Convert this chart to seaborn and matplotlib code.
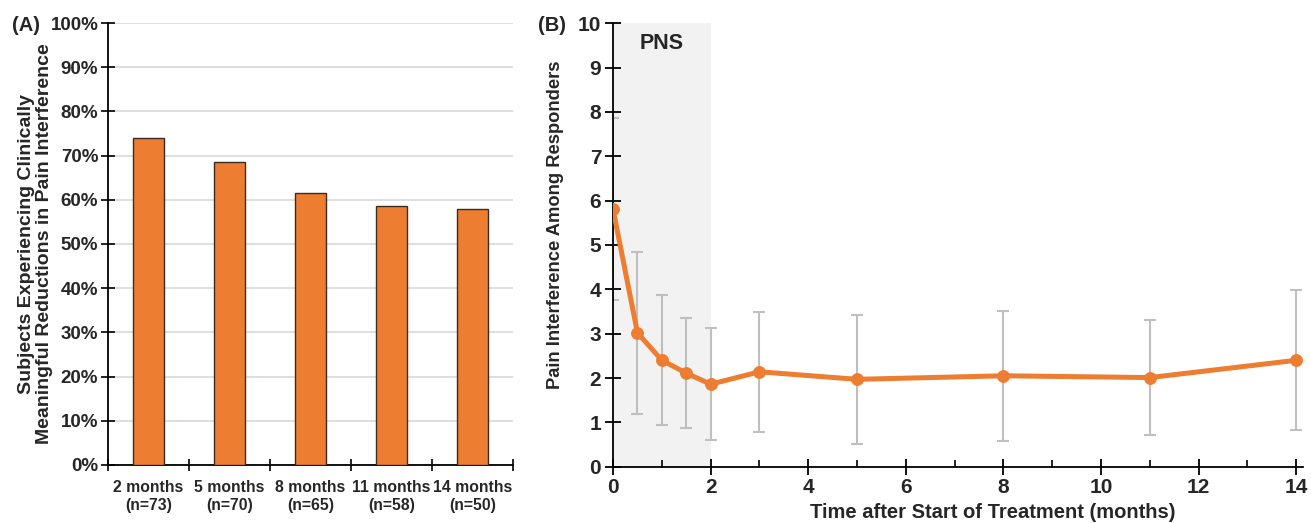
import numpy as np
import pandas as pd
import seaborn as sns
from matplotlib import pyplot as plt
from matplotlib.ticker import FixedLocator, PercentFormatter

# (A) responders per visit
visit_labels = ["2 months\n(n=73)", "5 months\n(n=70)", "8 months\n(n=65)",
                "11 months\n(n=58)", "14 months\n(n=50)"]
pct_responders = [74.0, 68.6, 61.5, 58.6, 58.0]

# (B) pain interference among responders over time
months = [0, 0.5, 1, 1.5, 2, 3, 5, 8, 11, 14]
pain_mean = [5.81, 3.02, 2.40, 2.11, 1.86, 2.14, 1.97, 2.05, 2.01, 2.40]
pain_sd = [2.05, 1.83, 1.47, 1.24, 1.26, 1.35, 1.46, 1.47, 1.29, 1.58]

orange = "#ED7D31"
grey_err = "#BFBFBF"

sns.set_theme(style="white")
plt.rcParams['font.family'] = ['Liberation Sans', 'DejaVu Sans']
plt.rcParams['font.weight'] = 'bold'

fig = plt.figure(figsize=(13.11, 5.23), dpi=100)
ax1 = fig.add_axes([0.0824, 0.111, 0.3089, 0.845])
ax2 = fig.add_axes([0.4676, 0.1077, 0.5264, 0.8477])

# ---------------- panel A ----------------
df_a = pd.DataFrame({"visit": visit_labels, "pct": pct_responders})
sns.barplot(data=df_a, x="visit", y="pct", color=orange, saturation=1,
            width=0.38, edgecolor="#3a2a20", linewidth=1.0, ax=ax1, zorder=3)
ax1.set_ylim(0, 100)
ax1.set_xlim(-0.5, len(visit_labels) - 0.5)
ax1.yaxis.set_major_locator(FixedLocator(np.arange(0, 101, 10)))
ax1.yaxis.set_major_formatter(PercentFormatter(decimals=0))
ax1.grid(axis="y", color="#D9D9D9", linewidth=1.2, zorder=0)
ax1.set_axisbelow(True)
ax1.xaxis.set_major_locator(FixedLocator(np.arange(-0.5, len(visit_labels), 1.0)))
ax1.xaxis.set_minor_locator(FixedLocator(np.arange(len(visit_labels))))
ax1.set_xticklabels([], minor=False)
ax1.set_xticklabels(visit_labels, minor=True, fontsize=11.3, fontweight="bold")
ax1.tick_params(axis="x", which="major", bottom=True, direction="inout", length=9,
                width=1.2, color="black")
ax1.tick_params(axis="x", which="minor", bottom=True, length=0, pad=11)
ax1.tick_params(axis="y", left=True, direction="inout", length=10, width=1.2, color="black",
                labelsize=13.5, pad=2)
for lab in ax1.get_yticklabels():
    lab.set_fontweight("bold")
for s in ["top", "right"]:
    ax1.spines[s].set_visible(False)
for s in ["left", "bottom"]:
    ax1.spines[s].set_color("black")
    ax1.spines[s].set_linewidth(1.3)
ax1.set_xlabel("")
ax1.set_ylabel("Subjects Experiencing Clinically\nMeaningful Reductions in Pain Interference",
               fontsize=14, fontweight="bold", linespacing=1.05)
ax1.yaxis.set_label_coords(-0.137, 0.5)
fig.text(0.009, 0.952, "(A)", fontsize=14.5, fontweight="bold", va="center")

# ---------------- panel B ----------------
df_b = pd.DataFrame({"month": months, "pain": pain_mean, "sd": pain_sd})
ax2.axvspan(0, 2, ymin=0, ymax=1, color="#F2F2F2", zorder=0, lw=0)
ax2.errorbar(df_b["month"], df_b["pain"], yerr=df_b["sd"], fmt="none",
             ecolor=grey_err, elinewidth=1.5, capsize=4, capthick=1.5, zorder=2)
sns.lineplot(data=df_b, x="month", y="pain", color=orange, linewidth=3.6,
             marker="o", markersize=8.5, markeredgecolor=orange, ax=ax2, zorder=3)
ax2.set_xlim(0, 14.14)
ax2.set_ylim(0, 10)
ax2.xaxis.set_major_locator(FixedLocator(np.arange(0, 15, 2)))
ax2.xaxis.set_minor_locator(FixedLocator(np.arange(1, 14, 2)))
ax2.yaxis.set_major_locator(FixedLocator(np.arange(0, 11, 1)))
ax2.tick_params(axis="x", which="major", bottom=True, direction="inout", length=11, width=1.3,
                color="black", labelsize=15, pad=3)
ax2.tick_params(axis="x", which="minor", bottom=True, direction="in", length=5, width=1.2,
                color="black")
ax2.tick_params(axis="y", left=True, direction="inout", length=11, width=1.3, color="black",
                labelsize=15, pad=3)
for lab in ax2.get_xticklabels() + ax2.get_yticklabels():
    lab.set_fontweight("bold")
for s in ["top", "right"]:
    ax2.spines[s].set_visible(False)
for s in ["left", "bottom"]:
    ax2.spines[s].set_color("black")
    ax2.spines[s].set_linewidth(1.3)
ax2.set_xlabel("")
fig.text(0.757, 1 - 513 / 523, "Time after Start of Treatment (months)", fontsize=14.5,
         fontweight="bold", ha="center", va="center")
ax2.set_ylabel("Pain Interference Among Responders", fontsize=13.2, fontweight="bold")
ax2.yaxis.set_label_coords(-0.071, 0.545)
ax2.text(1.0, 9.55, "PNS", fontsize=15.5, fontweight="bold", ha="center", va="center")
fig.text(0.410, 0.952, "(B)", fontsize=14.5, fontweight="bold", va="center")

fig.savefig("out.png", dpi=100)
